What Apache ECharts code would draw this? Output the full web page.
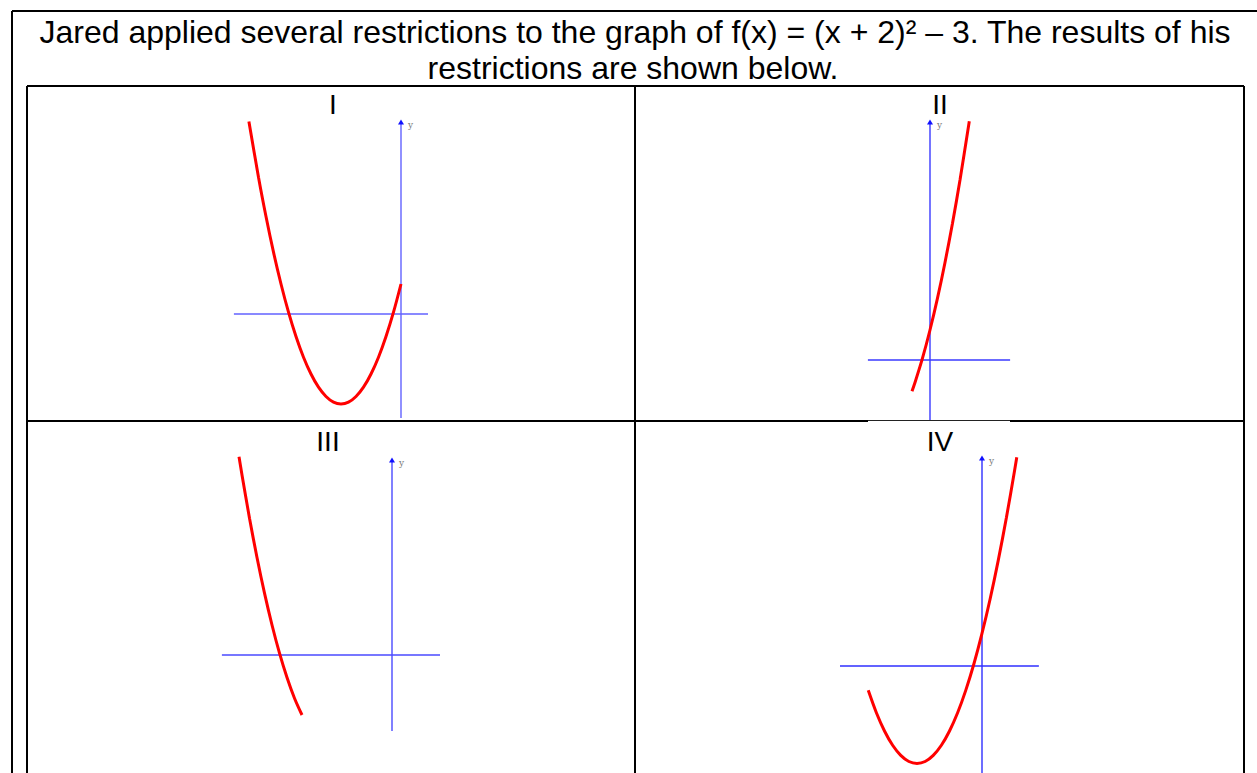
<!DOCTYPE html>
<html><head><meta charset="utf-8">
<script src="https://cdn.jsdelivr.net/npm/echarts@6/dist/echarts.min.js"></script>
<style>html,body{margin:0;padding:0;background:#fff}#c{width:1257px;height:773px}</style>
</head><body><div id="c"></div>
<script>
// ---- text ----
const titleLine1 = 'Jared applied several restrictions to the graph of f(x) = (x + 2)\u00B2 \u2013 3. The results of his';
const titleLine2 = 'restrictions are shown below.';
const panelLabels = ['I', 'II', 'III', 'IV'];
const axisName = 'y';

// ---- curve points (x, y) ----
const curve1X = [-5.07, -4.75, -4.5, -4.25, -4, -3.75, -3.5, -3.25, -3, -2.75, -2.5, -2.25, -2, -1.75, -1.5, -1.25, -1, -0.75, -0.5, -0.25, 0];
const curve1Y = [6.42, 4.56, 3.25, 2.06, 1, 0.06, -0.75, -1.44, -2, -2.44, -2.75, -2.94, -3, -2.94, -2.75, -2.44, -2, -1.44, -0.75, 0.06, 1];
const curve2X = [-0.6, -0.5, -0.25, 0, 0.25, 0.5, 0.75, 1, 1.31];
const curve2Y = [-1.04, -0.75, 0.06, 1, 2.06, 3.25, 4.56, 6, 7.96];
const curve3X = [-5.1, -5, -4.75, -4.5, -4.25, -4, -3.75, -3.5, -3.25, -3];
const curve3Y = [6.61, 6, 4.56, 3.25, 2.06, 1, 0.06, -0.75, -1.44, -2];
const curve4X = [-3.5, -3.25, -3, -2.75, -2.5, -2.25, -2, -1.75, -1.5, -1.25, -1, -0.75, -0.5, -0.25, 0, 0.25, 0.5, 0.75, 1, 1.07];
const curve4Y = [-0.75, -1.44, -2, -2.44, -2.75, -2.94, -3, -2.94, -2.75, -2.44, -2, -1.44, -0.75, 0.06, 1, 2.06, 3.25, 4.56, 6, 6.42];

// drawn axis extents per graph: [xMin, xMax, yMin, yMax]
const axisExt1 = [-5.57, 0.9, -3.47, 6.4];
const axisExt2 = [-2.07, 2.67, -2.0, 7.93];
const axisExt3 = [-5.67, 1.6, -2.53, 6.5];
const axisExt4 = [-4.37, 1.75, -3.29, 6.4];

// ---- layout (pixels / scales) ----
const panels = [
  { grid: { left: 221, top: 104, width: 225, height: 330 }, x: [-6, 1.5], y: [-4, 7], axisColor: '#6262ff', curveX: curve1X, curveY: curve1Y, ext: axisExt1 },
  { grid: { left: 855, top: 105, width: 165, height: 330 }, x: [-2.5, 3], y: [-2.5, 8.5], axisColor: '#3a3aff', curveX: curve2X, curveY: curve2Y, ext: axisExt2 },
  { grid: { left: 212, top: 445, width: 240, height: 300 }, x: [-6, 2], y: [-3, 7], axisColor: '#4a4aff', curveX: curve3X, curveY: curve3Y, ext: axisExt3 },
  { grid: { left: 819.5, top: 451.5, width: 227.5, height: 321.4 }, x: [-5, 2], y: [-3.29, 6.6], axisColor: '#2f2fff', curveX: curve4X, curveY: curve4Y, ext: axisExt4 }
];
const labelPos = [[333, 104], [940, 104], [328, 441], [940, 441]];

const chart = echarts.init(document.getElementById('c'), null, { renderer: 'svg' });

const grids = [], xAxes = [], yAxes = [], series = [];
panels.forEach((p, i) => {
  grids.push(Object.assign({ containLabel: false }, p.grid));
  xAxes.push({ type: 'value', gridIndex: i, min: p.x[0], max: p.x[1], show: false, splitLine: { show: false } });
  yAxes.push({ type: 'value', gridIndex: i, min: p.y[0], max: p.y[1], show: false, splitLine: { show: false } });
  const e = p.ext;
  series.push({
    type: 'line', xAxisIndex: i, yAxisIndex: i, symbol: 'none', silent: true, animation: false,
    lineStyle: { color: p.axisColor, width: 1.4 },
    data: [[e[0], 0], [e[1], 0]]
  });
  series.push({
    type: 'line', xAxisIndex: i, yAxisIndex: i, silent: true, animation: false,
    lineStyle: { color: p.axisColor, width: 1.4 },
    itemStyle: { color: '#1010ff' },
    data: [
      { value: [0, e[2]], symbol: 'none' },
      { value: [0, e[3]], symbol: 'triangle', symbolSize: [6, 5],
        label: { show: true, position: 'right', formatter: axisName, color: '#777', fontSize: 9, fontFamily: 'DejaVu Serif', offset: [-1, 3] } }
    ]
  });
  series.push({
    type: 'line', xAxisIndex: i, yAxisIndex: i, symbol: 'none', smooth: 0.3, silent: true, animation: false,
    lineStyle: { color: '#ff0000', width: 3 },
    data: p.curveX.map((x, k) => [x, p.curveY[k]])
  });
});

const font = '"Liberation Sans", Arial, sans-serif';
const line = (x1, y1, x2, y2, w, c) => ({ type: 'line', shape: { x1, y1, x2, y2 }, style: { stroke: c || '#000', lineWidth: w || 2 }, z: 10 });
const txt = (s, x, y, size) => ({ type: 'text', x, y, style: { text: s, fontSize: size, fontFamily: font, fill: '#000', align: 'center', verticalAlign: 'middle' }, z: 10 });

const graphic = [
  // outer box
  line(12, 11, 1257, 11), line(12, 11, 12, 773),
  // table
  line(27, 86, 1244, 86), line(27, 86, 27, 773), line(1244, 86, 1244, 773), line(635, 86, 635, 773),
  line(27, 421, 868, 421), line(1010, 421, 1244, 421), line(868, 420.5, 1010, 420.5, 1, '#222'),
  // title
  txt(titleLine1, 635, 32, 32), txt(titleLine2, 633, 68, 32)
];
panelLabels.forEach((s, i) => graphic.push(txt(s, labelPos[i][0], labelPos[i][1], 28)));

chart.setOption({
  animation: false,
  backgroundColor: '#fff',
  grid: grids, xAxis: xAxes, yAxis: yAxes, series, graphic
});
</script></body></html>
